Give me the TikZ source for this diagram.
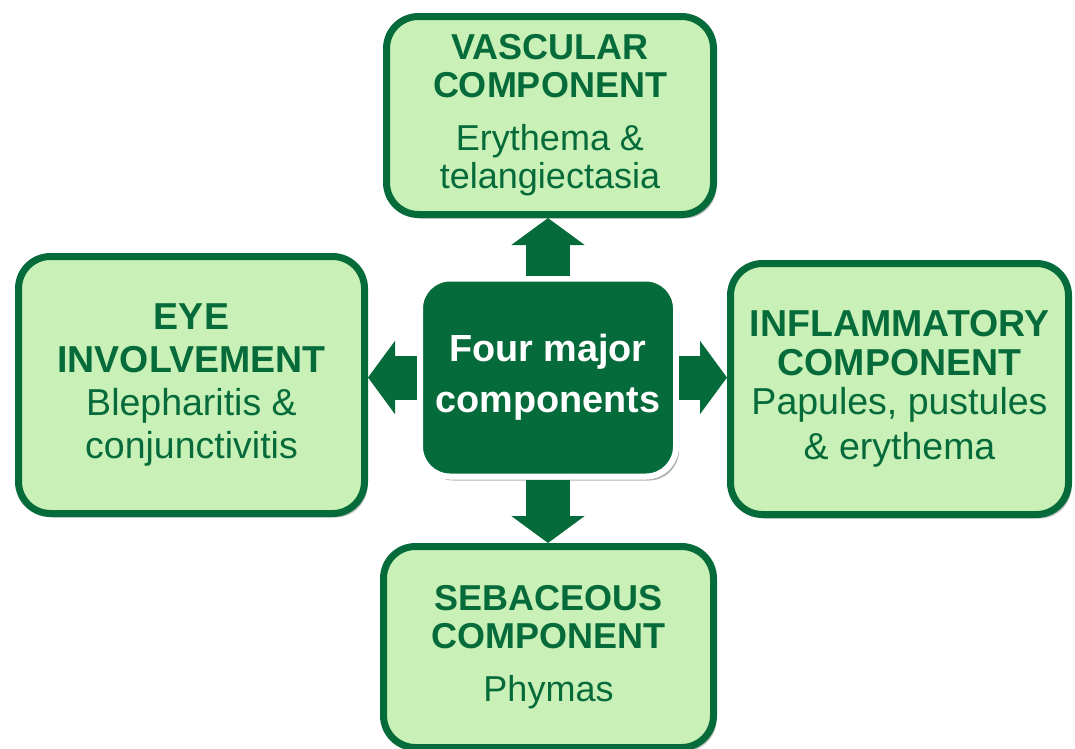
\documentclass[tikz,border=0pt]{standalone}
\usepackage{fontspec}
\setmainfont{Liberation Sans}
\usetikzlibrary{arrows.meta,shadows}

\begin{document}
\begin{tikzpicture}[x=1pt,y=-1pt,
	compbox/.style={draw=custcol_dk_green, line width=7pt, fill=custcol_lt_green, rounded corners=32pt,
		text=custcol_dk_green, align=center, inner sep=0pt,
		drop shadow={shadow xshift=3pt, shadow yshift=-4pt, fill=black, opacity=0.25}},
	hubbox/.style={draw=white, line width=6pt, fill=custcol_dk_green, rounded corners=30pt,
		text=white, align=center, inner sep=0pt, minimum width=256pt, minimum height=198pt,
		font=\fontsize{37.8pt}{51pt}\selectfont\bfseries,
		drop shadow={shadow xshift=3pt, shadow yshift=-4pt, fill=black, opacity=0.3}},
	blockarrow/.style={draw=custcol_dk_green, line width=44pt,
		-{Triangle[width=72pt, length=27pt]}}]
	\definecolor{custcol_dk_green}{RGB}{6, 107, 58}
	\definecolor{custcol_lt_green}{RGB}{201, 240, 182}
	\useasboundingbox (0.0,0.0) rectangle (1075.0,748.0);
	% the four components
	\node[compbox, minimum width=327pt, minimum height=198pt, font=\fontsize{36pt}{38pt}\selectfont] (vascular) at (550.0,115.5)
		{\textbf{VASCULAR}\\\textbf{COMPONENT}\\[15pt]Erythema \&\\telangiectasia};
	\node[compbox, minimum width=346pt, minimum height=257pt, font=\fontsize{37.5pt}{43pt}\selectfont] (eye) at (191.5,385.0)
		{\textbf{EYE}\\\textbf{INVOLVEMENT}\\Blepharitis \&\\conjunctivitis};
	\node[compbox, minimum width=338pt, minimum height=251pt, font=\fontsize{37.5pt}{39pt}\selectfont] (inflam) at (899.5,389.0)
		{\textbf{INFLAMMATORY}\\\textbf{COMPONENT}\\Papules, pustules\\[6pt]\& erythema};
	\node[compbox, minimum width=330pt, minimum height=201pt, font=\fontsize{36pt}{38pt}\selectfont] (sebac) at (548.5,647.0)
		{\textbf{SEBACEOUS}\\\textbf{COMPONENT}\\[15pt]Phymas};
	% centre
	\node[hubbox] (hub) at (548.0,377.5) {Four major\\components};
	% arrows
	\draw[blockarrow] (hub.north) -- (hub.north |- vascular.south);
	\draw[blockarrow] (hub.south) -- (hub.south |- sebac.north);
	\draw[blockarrow] (hub.west) -- (hub.west -| eye.east);
	\draw[blockarrow] (hub.east) -- (hub.east -| inflam.west);
\end{tikzpicture}
\end{document}
